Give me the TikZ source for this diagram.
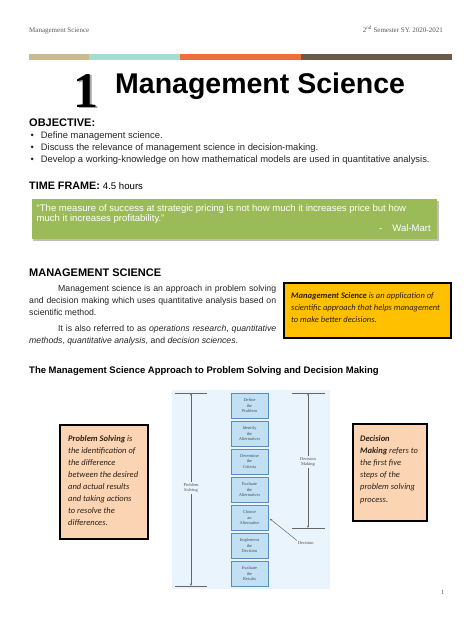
\documentclass[tikz,border=0pt]{standalone}
\usepackage{fontspec}
\setmainfont{Liberation Sans}
\newfontfamily\serifff{Liberation Serif}
\newfontfamily\calib{Carlito}
\usetikzlibrary{arrows.meta}
\definecolor{bartan}{HTML}{C8BC8E}
\definecolor{barcyan}{HTML}{A3DFD0}
\definecolor{barorange}{HTML}{EE6F3A}
\definecolor{barbrown}{HTML}{6A5C4B}
\definecolor{quotegreen}{HTML}{9BBB59}
\definecolor{msyellow}{HTML}{FFC000}
\definecolor{peach}{HTML}{FBD4B4}
\definecolor{diagbg}{HTML}{EAF4FC}
\definecolor{stepfill}{HTML}{C2E0F4}
\definecolor{stepedge}{HTML}{5B8DB8}
\definecolor{bodytext}{HTML}{262626}
\definecolor{callouttext}{HTML}{2B2014}
\begin{document}
\begin{tikzpicture}[x=1pt,y=-1pt,
  txt/.style={inner sep=0pt, anchor=base west, text=bodytext},
  callout/.style={draw=black, line width=1.3pt},
  calltext/.style={inner sep=0pt, anchor=north west, align=left, text=callouttext, font=\calib\itshape\fontsize{8.5}{12}\selectfont},
  stepbox/.style={draw=stepedge, fill=stepfill, line width=0.5pt, minimum width=37pt, minimum height=25pt, inner sep=0pt, align=center, text=black!70, font=\serifff\fontsize{4.4}{5.6}\selectfont},
  dimlbl/.style={fill=diagbg, inner sep=0.8pt, align=center, text=black!70, font=\serifff\fontsize{4.4}{5.6}\selectfont},
  dimline/.style={draw=black!60, line width=0.5pt},
  dimarrow/.style={dimline, {Stealth[length=2.5pt,width=2pt]}-{Stealth[length=2.5pt,width=2pt]}},
  body/.style={txt, font=\fontsize{8.7}{10}\selectfont},
  bullet/.style={txt, font=\fontsize{9.4}{11}\selectfont},
  quote/.style={txt, text=white, font=\fontsize{9.55}{11}\selectfont},
  head/.style={txt, text=black, font=\bfseries\fontsize{11}{12}\selectfont}
]
\useasboundingbox (0,0) rectangle (474,632);
\fill[white] (0,0) rectangle (474,632);

% header
\node[txt, text=black!65, font=\serifff\fontsize{7}{8}\selectfont] (hdrl) at (29,32.5) {Management Science};
\node[txt, anchor=base east, text=black!65, font=\serifff\fontsize{7}{8}\selectfont] (hdrr) at (443,32.5) {2\textsuperscript{nd} Semester SY. 2020-2021};
\fill[bartan] (29,54) rectangle (89,60);
\fill[barcyan] (89,54) rectangle (180,60);
\fill[barorange] (180,54) rectangle (301,60);
\fill[barbrown] (301,54) rectangle (452,60);

% title
\node[txt, anchor=base, text=black!35, font=\serifff\bfseries\fontsize{50}{50}\selectfont] (oneshadow) at (87.5,108.5) {1};
\node[txt, anchor=base, text=black, font=\serifff\bfseries\fontsize{50}{50}\selectfont] (one) at (86,107) {1};
\node[txt, text=black, font=\bfseries\fontsize{28.5}{30}\selectfont] (title) at (115,93) {Management Science};

% objectives
\node[head] (obj) at (29,126.7) {OBJECTIVE:};
\node[bullet] (b1dot) at (30.5,138.4) {•};
\node[bullet] (o1) at (40.7,138.4) {Define management science.};
\node[bullet] (b2dot) at (30.5,150.4) {•};
\node[bullet] (o2) at (40.7,150.4) {Discuss the relevance of management science in decision-making.};
\node[bullet] (b3dot) at (30.5,162.4) {•};
\node[bullet] (o3) at (40.7,162.4) {Develop a working-knowledge on how mathematical models are used in quantitative analysis.};

\node[head, font=\bfseries\fontsize{10.8}{12}\selectfont] (tf) at (29,189) {TIME FRAME: {\mdseries\fontsize{9.6}{11}\selectfont 4.5 hours}};

% quote box
\fill[black!25] (33,200.5) rectangle (439,241);
\fill[quotegreen] (31.5,198.5) rectangle (437,238.5);
\node[quote] (q1) at (36.5,211.2) {“The measure of success at strategic pricing is not how much it increases price but how};
\node[quote] (q2) at (36.5,221) {much it increases profitability.”};
\node[quote] (qd) at (379,231.8) {-};
\node[quote, anchor=base east] (qa) at (431,231.8) {Wal-Mart};

% management science section
\node[head] (msh) at (29,276) {MANAGEMENT SCIENCE};
\node[body] (p1) at (58,291.7) {\makebox[218pt][s]{Management science is an approach in problem solving}};
\node[body] (p2) at (29,303.4) {\makebox[247pt][s]{and decision making which uses quantitative analysis based on}};
\node[body] (p3) at (29,315.1) {scientific method.};
\node[body] (p4) at (58,331.7) {\makebox[218pt][s]{It is also referred to as \textit{operations research}, \textit{quantitative}}};
\node[body] (p5) at (29,343.4) {\textit{methods}, \textit{quantitative analysis}, and \textit{decision sciences}.};

\draw[callout, fill=msyellow] (284,283) rectangle (451,338);
\node[calltext] (msdef) at (291,292.5) {\textbf{Management Science} is an application of\\scientific approach that helps management\\to make better decisions.};

\node[head, font=\bfseries\fontsize{9.5}{11}\selectfont] (apph) at (29,373.3) {The Management Science Approach to Problem Solving and Decision Making};

% diagram
\fill[diagbg] (172,390) rectangle (330,589);
\node[stepbox] (s1) at (249.5,405.5) {Define\\the\\Problem};
\node[stepbox] (s2) at (249.5,433.5) {Identify\\the\\Alternatives};
\node[stepbox] (s3) at (249.5,461.5) {Determine\\the\\Criteria};
\node[stepbox] (s4) at (249.5,489.5) {Evaluate\\the\\Alternatives};
\node[stepbox] (s5) at (249.5,517.5) {Choose\\an\\Alternative};
\node[stepbox] (s6) at (249.5,545.5) {Implement\\the\\Decision};
\node[stepbox] (s7) at (249.5,573.5) {Evaluate\\the\\Results};

\coordinate (psTL) at (175,393);
\coordinate (psTR) at (207,393);
\coordinate (psBL) at (175,586);
\coordinate (psBR) at (207,586);
\coordinate (psT) at (191,393);
\coordinate (psB) at (191,586);
\draw[dimline] (psTL) -- (psTR);
\draw[dimline] (psBL) -- (psBR);
\draw[dimarrow] (psT) -- (psB);
\node[dimlbl] (pslbl) at (191,488) {Problem\\Solving};

\coordinate (dmTL) at (292,393);
\coordinate (dmTR) at (325,393);
\coordinate (dmBL) at (292,528);
\coordinate (dmBR) at (325,528);
\coordinate (dmT) at (308,393);
\coordinate (dmB) at (308,528);
\draw[dimline] (dmTL) -- (dmTR);
\draw[dimline] (dmBL) -- (dmBR);
\draw[dimarrow] (dmT) -- (dmB);
\node[dimlbl] (dmlbl) at (308,462) {Decision\\Making};

\node[dimlbl, anchor=west, fill=none] (declbl) at (297,543) {Decision};
\draw[dimline, -{Stealth[length=2.5pt,width=2pt]}, shorten >=2pt] (declbl.north west) -- (s5.east);

% callouts
\draw[callout, fill=peach] (60,425) rectangle (148,539);
\node[calltext] (psdef) at (68,435.5) {\textbf{Problem Solving} is\\the identification of\\the difference\\between the desired\\and actual results\\and taking actions\\to resolve the\\differences.};
\draw[callout, fill=peach] (353,424) rectangle (427,521);
\node[calltext, font=\calib\itshape\fontsize{8.5}{12.2}\selectfont] (dmdef) at (360,435) {\textbf{Decision}\\\textbf{Making} refers to\\the first five\\steps of the\\problem solving\\process.};

\node[txt, text=black!65, font=\serifff\fontsize{6.5}{8}\selectfont] (pgno) at (441,594) {1};
\end{tikzpicture}
\end{document}
